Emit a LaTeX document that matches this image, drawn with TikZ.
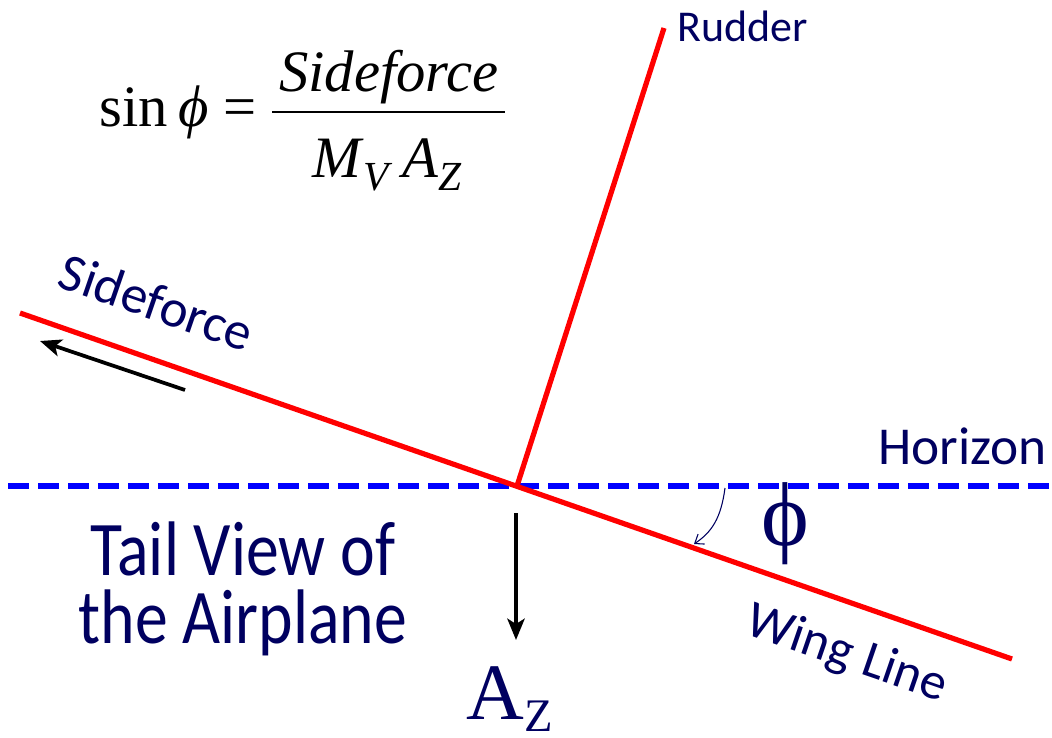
\documentclass[tikz,border=0pt]{standalone}
\usepackage{fontspec}
\setmainfont{Liberation Serif}
\newfontfamily\lblfont{Carlito}
\newfontfamily\tailfont[FakeStretch=0.85]{Carlito}
\usetikzlibrary{arrows.meta}
\definecolor{navy}{RGB}{0,0,96}
\definecolor{wingred}{RGB}{255,0,0}
\definecolor{hzblue}{RGB}{0,0,255}

\begin{document}
\begin{tikzpicture}[x=0.75pt,y=-0.75pt,
lbl/.style={text=navy,inner sep=0pt},
eqn/.style={inner sep=0pt,font=\fontsize{44}{50}\selectfont},
wing/.style={draw=wingred,line width=3.9pt},
horizon/.style={draw=hzblue,line width=3.9pt,dash pattern=on 15.75pt off 6.75pt},
arr/.style={-{Stealth[length=16pt,width=13pt,inset=4pt]},line width=2.8pt},
angarr/.style={-{Straight Barb[length=6pt,width=9pt]},draw=navy,line width=0.8pt}]
\useasboundingbox (0,0) rectangle (1052,738);
% geometry
\coordinate (O) at (517,486);
\coordinate (wingL) at (20,313); \coordinate (wingR) at (1012,659);
\coordinate (rudtop) at (664,28);
\coordinate (hzL) at (8,486); \coordinate (hzR) at (1052,486);
\draw[horizon] (hzL)--(hzR);
\draw[wing] (wingL)--(wingR);
\draw[wing] (O)--(rudtop);
% labels
\node[lbl,anchor=base west,font=\lblfont\fontsize{33}{38}\selectfont] (rudder) at (677,42) {Rudder};
\node[lbl,anchor=base west,font=\lblfont\fontsize{40}{46}\selectfont] (horizon) at (878,464) {Horizon};
\node[lbl,rotate=-19,font=\lblfont\fontsize{40}{46}\selectfont] (side) at (157,302) {Sideforce};
\node[lbl,rotate=-19,font=\lblfont\fontsize{39}{44}\selectfont] (wingline) at (847,655) {Wing Line};
\node[lbl,align=center,font=\tailfont\fontsize{58}{51}\selectfont] (tail) at (243,589) {Tail View of\\the Airplane};
\node[lbl,anchor=base west,font=\fontsize{60}{64}\selectfont] (az) at (466,719) {A\raisebox{-9pt}{\fontsize{35}{40}\selectfont Z}};
\node[lbl,font=\fontsize{68}{72}\selectfont] (phi) at (785,524) {ϕ};
% equation
\node[eqn,anchor=base] (lhs) at (178,127) {sin\,\textit{ϕ} =};
\node[eqn,anchor=base] (num) at (389,92) {\textit{Sideforce}};
\node[eqn,anchor=base] (den) at (387,177) {\textit{M}\raisebox{-10pt}{\fontsize{31}{34}\selectfont\textit{V}}\,\textit{A}\raisebox{-10pt}{\fontsize{31}{34}\selectfont\textit{Z}}};
\draw[line width=1.5pt] (272,112)--(505,112);
% arrows
\coordinate (sfA) at (185,390); \coordinate (sfB) at (40,341);
\coordinate (azA) at (516,513); \coordinate (azB) at (516,640);
\draw[arr] (sfA)--(sfB);
\draw[arr] (azA)--(azB);
\coordinate (angS) at (725,488); \coordinate (angE) at (694,544);
\draw[angarr] (angS) .. controls (721,518) and (712,532) .. (angE);
\end{tikzpicture}
\end{document}
